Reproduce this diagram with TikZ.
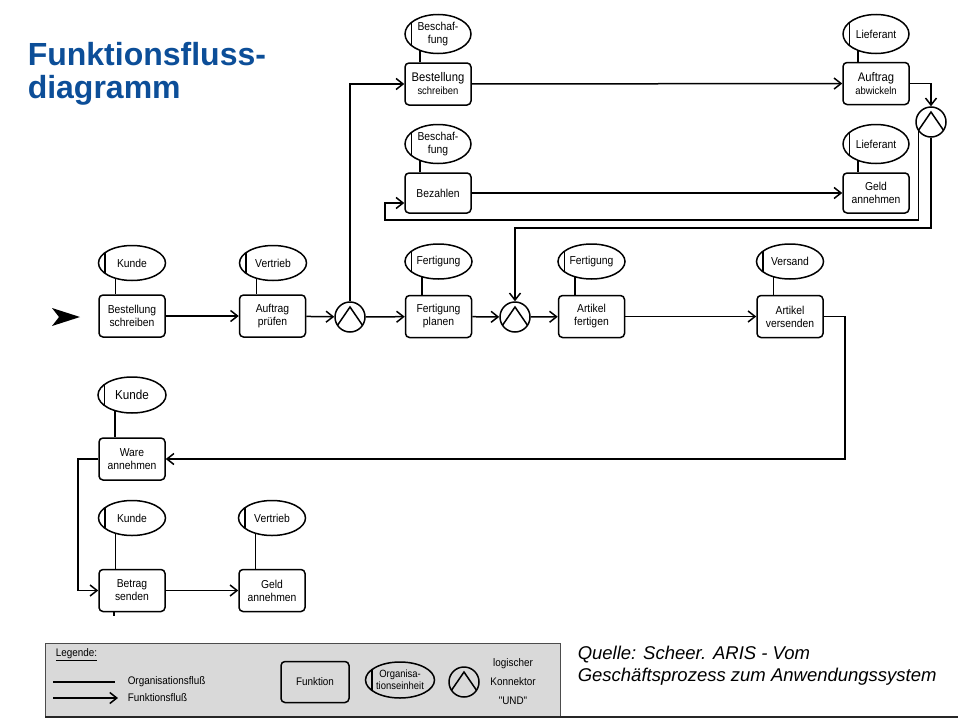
\documentclass[tikz,border=0pt]{standalone}
\usepackage{fontspec}
\setmainfont{Liberation Sans}
\newfontfamily\nar[FakeStretch=0.9]{Liberation Sans}
\usetikzlibrary{shapes.geometric,arrows.meta,calc}
\definecolor{titleblue}{RGB}{12,78,152}
\definecolor{legendgray}{RGB}{217,217,217}
\begin{document}
\begin{tikzpicture}[x=1pt,y=-1pt, line width=1.5pt,
  fbox/.style={draw, rounded corners=4pt, minimum width=66pt, minimum height=42pt, inner sep=0pt, align=center, font=\nar\fontsize{11.5}{13}\selectfont},
  org/.style={draw, ellipse, minimum width=67pt, minimum height=35pt, inner sep=0pt, align=center, font=\nar\fontsize{11.5}{13}\selectfont,
    path picture={\draw[line width=1.6pt] ([xshift=6.5pt]path picture bounding box.south west) -- ([xshift=6.5pt]path picture bounding box.north west);}},
  orgtall/.style={org, minimum width=66pt, minimum height=39pt},
  und/.style={draw, circle, minimum size=30pt, inner sep=0pt,
    path picture={\draw[line width=1.5pt] (path picture bounding box.center) ++(-13,9) -- ++(13,-19) -- ++(13,19);}},
  flow/.style={-{Straight Barb[length=7pt,width=11pt]}},
  lgtext/.style={anchor=west, inner sep=0pt, font=\nar\fontsize{11}{13}\selectfont},
]
\useasboundingbox (0,0) rectangle (958,720);

% title
\node[anchor=north west, inner sep=0pt, align=left, text=titleblue, font=\fontsize{32}{33}\selectfont\bfseries] (title) at (27,41.5) {Funktionsfluss-\\diagramm};

% main row
\node[fbox] (b1) at (132,316) {Bestellung\\schreiben};
\node[fbox] (b2) at (272.5,316) {Auftrag\\prüfen};
\node[und] (and1) at (350,317) {};
\node[fbox] (b3) at (438.5,316.5) {Fertigung\\planen};
\node[und] (and2) at (515,317) {};
\node[fbox] (b4) at (591.5,316.5) {Artikel\\fertigen};
\node[fbox] (b5) at (790,316.5) {Artikel\\versenden};

\node[org] (o1) at (132,263) {Kunde};
\node[org] (o2) at (273,263) {Vertrieb};
\node[org] (o3) at (438.5,261.5) {Fertigung};
\node[org] (o4) at (591.5,261.5) {Fertigung};
\node[org] (o5) at (790,261.5) {Versand};

% top rows
\node[fbox] (t1) at (438,84) {{\fontsize{12.5}{14}\selectfont Bestellung}\\{\fontsize{10.5}{12}\selectfont schreiben}};
\node[fbox] (t2) at (876,83.5) {{\fontsize{12.5}{14}\selectfont Auftrag}\\{\fontsize{10.5}{12}\selectfont abwickeln}};
\node[fbox, minimum height=40pt] (t3) at (438,193) {Bezahlen};
\node[fbox, minimum height=40pt] (t4) at (876,193) {Geld\\annehmen};
\node[und] (and3) at (931,122) {};

\node[orgtall] (ot1) at (438,34) {Beschaf-\\fung};
\node[orgtall] (ot2) at (876,34) {Lieferant};
\node[orgtall] (ot3) at (438,144) {Beschaf-\\fung};
\node[orgtall] (ot4) at (876,144) {Lieferant};

% bottom left
\node[fbox] (w) at (132,459) {Ware\\annehmen};
\node[fbox] (bs) at (132,590.5) {Betrag\\senden};
\node[fbox] (ga) at (272,590.5) {Geld\\annehmen};
\node[org, minimum width=68pt, minimum height=36pt, font=\nar\fontsize{13}{14}\selectfont] (ow) at (132,395) {Kunde};
\node[org] (obs) at (132,518) {Kunde};
\node[org] (oga) at (272,518) {Vertrieb};

% organisation links
\foreach \o/\f in {o1/b1,o2/b2,o3/b3,o4/b4,o5/b5,ot1/t1,ot2/t2,ot3/t3,ot4/t4,ow/w,obs/bs,oga/ga}
  \draw (\o.224) -- (\o.224 |- \f.north);
\draw ([xshift=-18pt]bs.south) -- ++(0,4);

% start arrow
\fill (52,308) -- (80,317) -- (52,326) -- (59,317) -- cycle;

% function flow
\draw[flow] (b1) -- (b2);
\draw[flow] (b2) -- (and1);
\draw[flow] (and1) -- (b3);
\draw[flow] (b3) -- (and2);
\draw[flow] (and2) -- (b4);
\draw[flow] (b4) -- (b5);
\draw[flow] (and1.north) |- (t1.west);
\draw[flow] (t1) -- (t2);
\draw[flow] (t3) -- (t4);
\draw[flow] (t2.east) -| (and3.north);
\coordinate (k1) at (385,220);
\draw[flow] (and3.217) |- (k1) |- ([yshift=-10pt]t3.west);
\coordinate (k2) at (515,228);
\draw[flow] (and3.south) |- (k2) -- (and2.north);
\coordinate (k3) at (845,0);
\draw[flow] (b5.east) -| (k3 |- w.east) -- (w.east);
\coordinate (k4) at (78,0);
\draw[flow] (w.west) -| (k4 |- bs.west) -- (bs.west);
\draw[flow] (bs) -- (ga);

% legend
\draw[draw=black!70, line width=1pt, fill=legendgray] (45,643) rectangle (560,717);
\draw[black!85, line width=2pt] (45,717) -- (958,717);
\node[lgtext] (lg) at (55,655) {\underline{Legende:}};
\node[lgtext] (lt1) at (127,682) {Organisationsfluß};
\node[lgtext] (lt2) at (127,698) {Funktionsfluß};
\coordinate (la) at (53,682);
\coordinate (lb) at (53,698);
\draw (la) -- ([xshift=-12pt]lt1.west);
\draw[flow] (lb) -- ([xshift=-9pt]lt2.west);
\node[fbox, minimum width=68pt, minimum height=41pt, font=\nar\fontsize{11}{13}\selectfont] (lf) at (315,682) {Funktion};
\node[org, minimum width=69pt, minimum height=36pt, font=\nar\fontsize{10.5}{12}\selectfont] (lo) at (400,680) {Organisa-\\tionseinheit};
\node[und] (lu) at (464,682) {};
\node[inner sep=0pt, align=center, font=\nar\fontsize{11}{19}\selectfont] (lut) at (513,682) {logischer\\Konnektor\\"UND"};

% source
\node[anchor=north west, inner sep=0pt, align=left, font=\fontsize{18.5}{22}\selectfont\itshape] (src) at (577,645) {Quelle: Scheer. ARIS - Vom\\Geschäftsprozess zum Anwendungssystem};
\end{tikzpicture}
\end{document}
